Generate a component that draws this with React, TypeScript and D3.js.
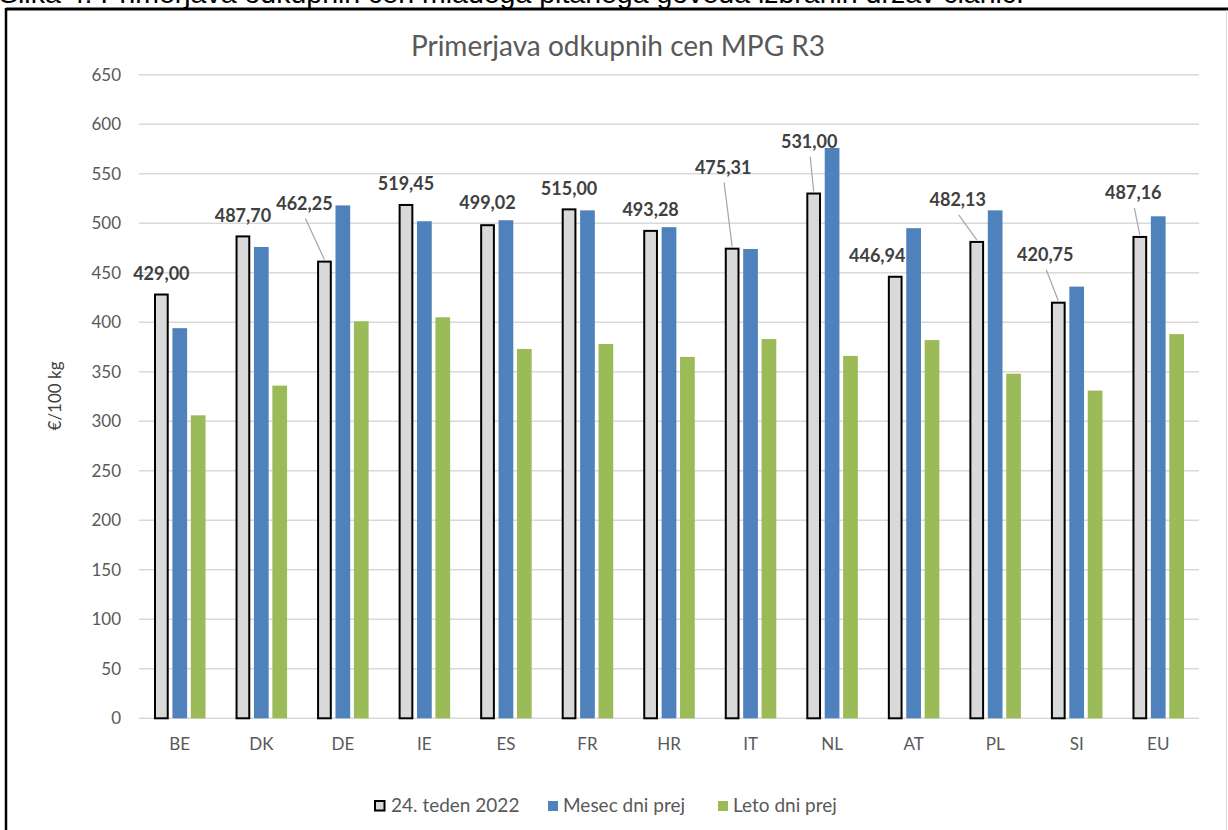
import React from 'react';
import { scaleBand, scaleLinear, format } from 'd3';

const countries = ['BE', 'DK', 'DE', 'IE', 'ES', 'FR', 'HR', 'IT', 'NL', 'AT', 'PL', 'SI', 'EU'];
const seriesNames = ['24. teden 2022', 'Mesec dni prej', 'Leto dni prej'];
const week24 = [429.0, 487.7, 462.25, 519.45, 499.02, 515.0, 493.28, 475.31, 531.0, 446.94, 482.13, 420.75, 487.16];
const monthBefore = [394, 476, 518, 502, 503, 513, 496, 474, 576, 495, 513, 436, 507];
const yearBefore = [306, 336, 401, 405, 373, 378, 365, 383, 366, 382, 348, 331, 388];
const yTicks = [0, 50, 100, 150, 200, 250, 300, 350, 400, 450, 500, 550, 600, 650];

// where excel dragged the data labels (dx, dy from bar top)
const labelOffsets = [
  [0, -20], [0, -20], [-20, -57], [0, -20], [0, -21], [0, -20], [0, -20],
  [-9, -80], [-4.5, -51], [-18, -20], [-19, -41], [-13, -47], [-6.5, -43],
];

const colors = ['#d9d9d9', '#4f81bd', '#9bbb59'];
const font = 'Lato, "Noto Sans", sans-serif';
const W = 1228;
const H = 830;

const App = () => {
  const series = [week24, monthBefore, yearBefore];
  const x0 = scaleBand().domain(countries).range([139, 1199]).paddingInner(0.368).paddingOuter(0.184);
  const x1 = scaleBand().domain(seriesNames).range([0, x0.bandwidth()]).paddingInner(0.2);
  const y = scaleLinear().domain([0, 650]).range([718.3, 74.7]);
  const fmt = (v: number) => format('.2f')(v).replace('.', ',');

  // legend squares + text starts
  const legendX = [375, 548, 718];

  return (
    <svg width={W} height={H} style={{ position: 'absolute', left: 0, top: 0, background: '#fff' }}>
      {/* caption of the document, cut off at the page top like in the source */}
      <text x={-1} y={3} fontFamily='"Liberation Sans", Arial, sans-serif' fontSize={28.5} fill='#000'>
        Slika 4: Primerjava odkupnih cen mladega pitanega goveda izbranih držav članic.
      </text>
      <rect x={6} y={9} width={W - 6} height={H} fill='#fff' />
      <line x1={6} x2={W} y1={9} y2={9} stroke='#000' strokeWidth={3} />
      <line x1={6} x2={6} y1={8} y2={H} stroke='#000' strokeWidth={2.5} />
      <line x1={1226.5} x2={1226.5} y1={10} y2={H} stroke='#d9d9d9' strokeWidth={1} />

      <text x={618} y={56} textAnchor='middle' fontFamily={font} fontSize={28} fill='#595959'>
        Primerjava odkupnih cen MPG R3
      </text>

      {/* grid + y axis */}
      {yTicks.map((t) => (
        <g key={t}>
          <line x1={139} x2={1199} y1={y(t)} y2={y(t)} stroke='#d9d9d9' strokeWidth={1.5} />
          <text x={121} y={y(t)} dy='0.35em' textAnchor='end' fontFamily={font} fontSize={17} fill='#595959'>
            {t}
          </text>
        </g>
      ))}
      <text
        transform={`translate(61,396) rotate(-90)`}
        textAnchor='middle'
        fontFamily={font}
        fontSize={17}
        fill='#404040'
      >
        €/100 kg
      </text>

      {/* bars */}
      {countries.map((c, i) => (
        <g key={c} transform={`translate(${x0(c)},0)`}>
          {series.map((s, j) => (
            <rect
              key={j}
              x={(x1(seriesNames[j]) as number) + (j === 0 ? 1 : 0)}
              y={y(s[i]) + (j === 0 ? 1 : 0)}
              width={x1.bandwidth() - (j === 0 ? 2 : 0)}
              height={y(0) - y(s[i]) - (j === 0 ? 1 : 0)}
              fill={colors[j]}
              stroke={j === 0 ? '#000' : 'none'}
              strokeWidth={2}
            />
          ))}
          <text
            x={x0.bandwidth() / 2}
            y={750}
            textAnchor='middle'
            fontFamily={font}
            fontSize={17}
            fill='#595959'
          >
            {c}
          </text>
        </g>
      ))}

      {/* data labels for the current week */}
      {countries.map((c, i) => {
        const bx = (x0(c) as number) + (x1(seriesNames[0]) as number) + x1.bandwidth() / 2;
        const by = y(week24[i]);
        const [dx, dy] = labelOffsets[i];
        const lx = bx + dx;
        const ly = by + dy;
        const leader = Math.hypot(dx, dy) > 30;
        return (
          <g key={c}>
            {leader && (
              <line x1={lx + 1} y1={ly + 15} x2={bx} y2={by - 1} stroke='#a6a6a6' strokeWidth={1.2} />
            )}
            <text
              x={lx}
              y={ly}
              dy='0.35em'
              textAnchor='middle'
              fontFamily={font}
              fontWeight='bold'
              fontSize={18}
              fill='#404040'
            >
              {fmt(week24[i])}
            </text>
          </g>
        );
      })}

      {/* legend */}
      <g fontFamily={font} fontSize={19} fill='#595959'>
        {seriesNames.map((name, j) => (
          <g key={name}>
            <rect
              x={legendX[j]}
              y={801}
              width={j === 0 ? 9.5 : 10}
              height={j === 0 ? 9.5 : 10}
              fill={colors[j]}
              stroke={j === 0 ? '#000' : 'none'}
              strokeWidth={2}
            />
            <text x={legendX[j] + (j === 0 ? 16 : 15)} y={812}>{name}</text>
          </g>
        ))}
      </g>
    </svg>
  );
};

export default App;
